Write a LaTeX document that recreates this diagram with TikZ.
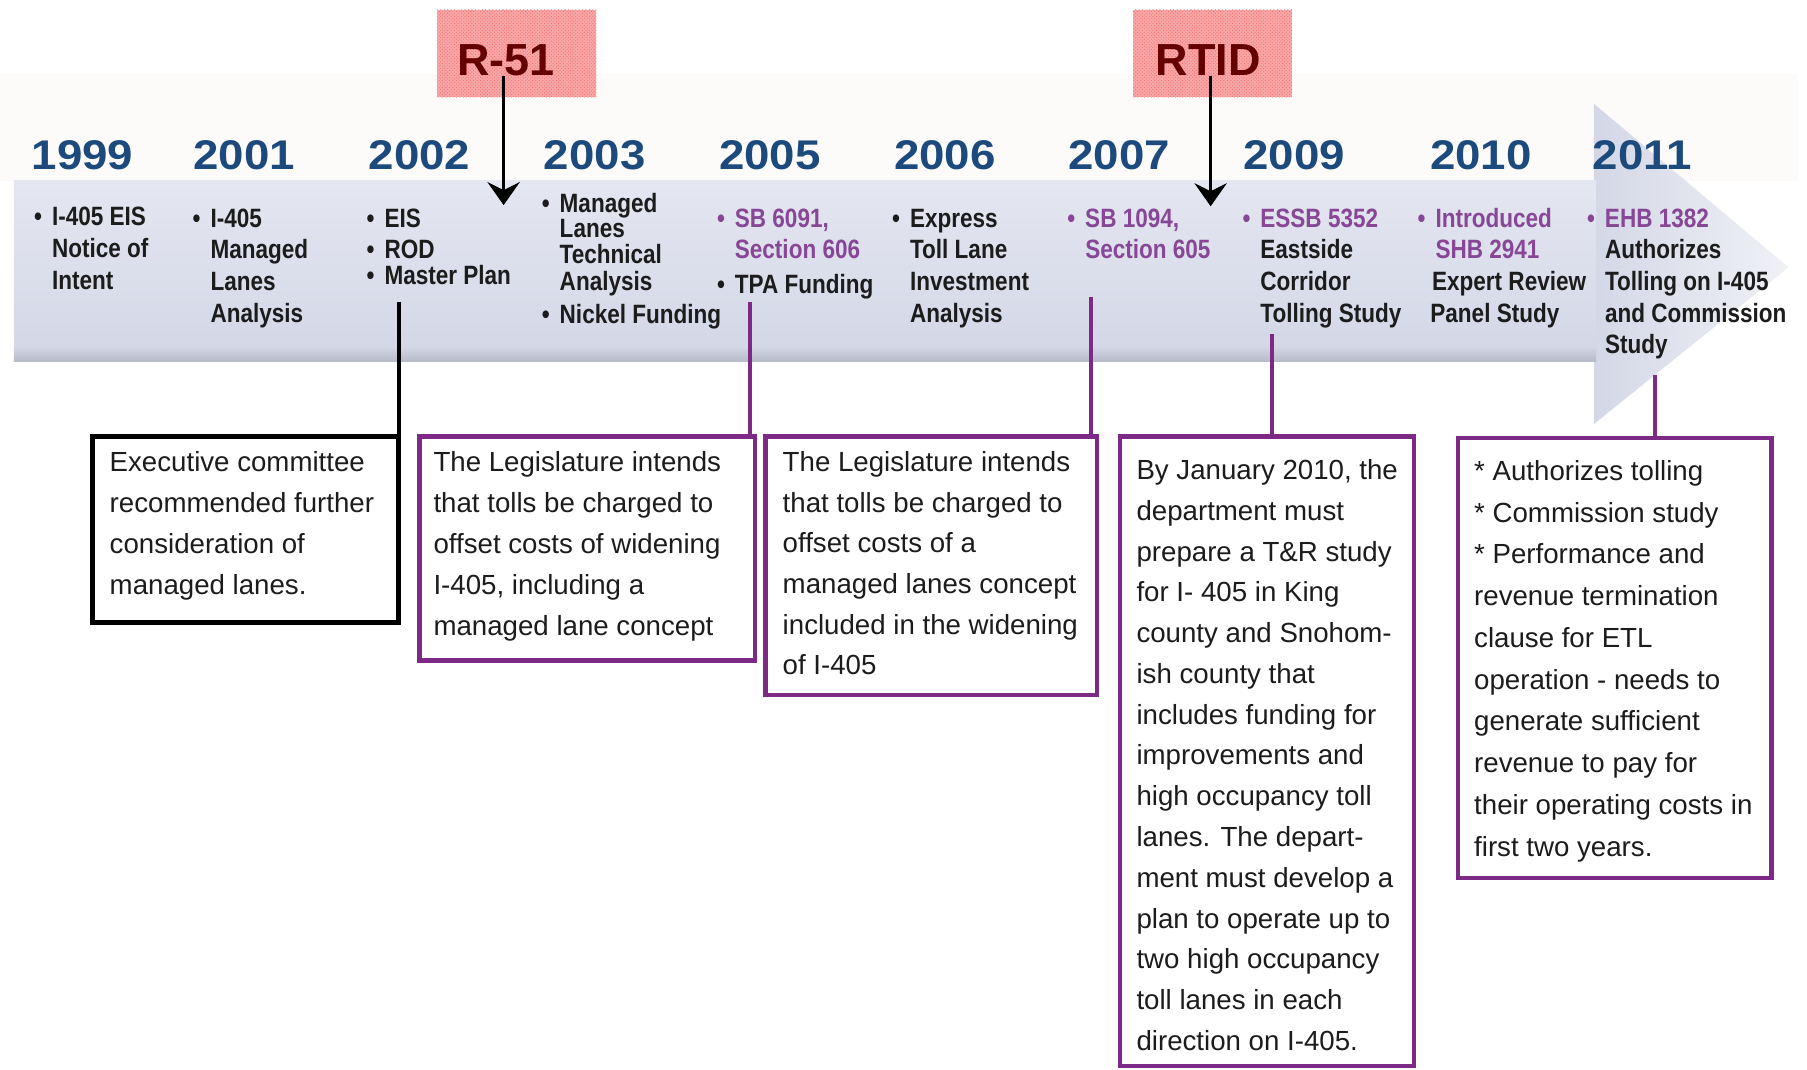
\documentclass[tikz,border=0pt]{standalone}
\usepackage{fontspec}
\setmainfont{Liberation Sans}
\newfontfamily\bandfont{Liberation Sans}[FakeStretch=0.85]
\newfontfamily\yearfont{Liberation Sans}[FakeStretch=1.1]
\usetikzlibrary{arrows.meta,patterns}
\definecolor{yearblue}{RGB}{28,74,124}
\definecolor{lpurple}{RGB}{125,42,135}
\definecolor{tpurple}{RGB}{135,70,150}
\definecolor{bandc}{RGB}{212,215,230}
\definecolor{bandtop}{RGB}{228,231,241}
\definecolor{bandshadow}{RGB}{182,185,198}
\definecolor{labelfill}{RGB}{246,168,168}
\definecolor{labeltext}{RGB}{100,0,0}
\definecolor{txt}{RGB}{28,28,28}
\definecolor{haze}{RGB}{252,251,250}
\newcommand\tlbul{\makebox[15.5pt][l]{\textbullet}}
\newcommand\tlind{\hspace*{15.5pt}}
\newcommand\tlp[1]{{\color{tpurple}#1}}
\begin{document}
\begin{tikzpicture}[x=1pt,y=-1pt,
  year/.style={font=\yearfont\bfseries\fontsize{36}{40}\selectfont, text=yearblue, inner sep=0, anchor=center},
  bandtxt/.style={font=\bandfont\bfseries\fontsize{23}{#1}\selectfont, text=txt, anchor=base west, inner sep=0},
  bandtxt/.default=27.5,
  boxtxt/.style={font=\fontsize{24}{#1}\selectfont, text=txt, anchor=base west, inner sep=0},
  pbox/.style={draw=lpurple, fill=white, line width=4pt, inner sep=0, outer sep=0, anchor=north west},
  kbox/.style={draw=black, fill=white, line width=4.5pt, inner sep=0, outer sep=0, anchor=north west},
  pconn/.style={draw=lpurple, line width=3.5pt},
  kconn/.style={draw=black, line width=3.5pt},
  lblbox/.style={fill=labelfill, postaction={pattern=crosshatch dots, pattern color=red!60}, inner sep=0, outer sep=0, minimum width=138pt, minimum height=76pt},
  lbltxt/.style={font=\bfseries\fontsize{39}{40}\selectfont, text=labeltext, inner sep=0, anchor=center},
  labarrow/.style={draw=black, line width=3pt, -{Stealth[length=20pt,width=28pt,inset=7pt]}}
]
\useasboundingbox (0,0) rectangle (1568,928);
% haze and timeline band
\fill[haze] (0,64) rectangle (1560,157);
\shade[left color=bandc, right color=white!65!bandc] (1383,90) -- (1552,232) -- (1383,368) -- cycle;
\shade[top color=bandtop, bottom color=bandc] (12,157) rectangle (1385,302);
\shade[top color=bandc!90!bandshadow, bottom color=bandshadow] (12,302) rectangle (1385,314);
% years
\node[year] (y1999) at (71.5,134.5) {1999};
\node[year] (y2001) at (212,134.5) {2001};
\node[year] (y2002) at (364,134.5) {2002};
\node[year] (y2003) at (516,134.5) {2003};
\node[year] (y2005) at (668,134.5) {2005};
\node[year] (y2006) at (820,134.5) {2006};
\node[year] (y2007) at (971,134.5) {2007};
\node[year] (y2009) at (1123,134.5) {2009};
\node[year] (y2010) at (1285,134.5) {2010};
\node[year] (y2011) at (1425,134.5) {2011};
% band texts
\node[bandtxt] (e1999) at (29.5,196) {\begin{tabular}[t]{@{}l@{}}\tlbul I-405 EIS\\\tlind Notice of\\\tlind Intent\end{tabular}};
\node[bandtxt] (e2001) at (167,197) {\begin{tabular}[t]{@{}l@{}}\tlbul I-405\\\tlind Managed\\\tlind Lanes\\\tlind Analysis\end{tabular}};
\node[bandtxt=27] (e2002) at (318,197) {\begin{tabular}[t]{@{}l@{}}\tlbul EIS\\\tlbul ROD\\[-4pt]\tlbul Master Plan\end{tabular}};
\node[bandtxt=20.6] (e2003) at (470,184) {\begin{tabular}[t]{@{}l@{}}\tlbul Managed\\\tlind Lanes\\\tlind Technical\\\tlind Analysis\\[6pt]\tlbul Nickel Funding\end{tabular}};
\node[bandtxt] (e2005) at (622,197) {\begin{tabular}[t]{@{}l@{}}\tlp{\tlbul SB 6091,}\\\tlind\tlp{Section 606}\\[3pt]\tlbul TPA Funding\end{tabular}};
\node[bandtxt] (e2006) at (774,197) {\begin{tabular}[t]{@{}l@{}}\tlbul Express\\\tlind Toll Lane\\\tlind Investment\\\tlind Analysis\end{tabular}};
\node[bandtxt] (e2007) at (926,197) {\begin{tabular}[t]{@{}l@{}}\tlp{\tlbul SB 1094,}\\\tlind\tlp{Section 605}\end{tabular}};
\node[bandtxt] (e2009) at (1078,197) {\begin{tabular}[t]{@{}l@{}}\tlp{\tlbul ESSB 5352}\\\tlind Eastside\\\tlind Corridor\\\tlind Tolling Study\end{tabular}};
\node[bandtxt] (e2010) at (1230,197) {\begin{tabular}[t]{@{}l@{}}\tlp{\tlbul Introduced}\\\tlind\tlp{SHB 2941}\\\hspace*{12.5pt}Expert Review\\\hspace*{11pt}Panel Study\end{tabular}};
\node[bandtxt] (e2011) at (1377,197) {\begin{tabular}[t]{@{}l@{}}\tlp{\tlbul EHB 1382}\\\tlind Authorizes\\\tlind Tolling on I-405\\\tlind and Commission\\\tlind Study\end{tabular}};
% labels with arrows
\node[lblbox] (r51box) at (448.5,46.6) {};
\node[lbltxt] (r51) at (439,52) {R-51};
\coordinate (r51tip) at (437,178);
\draw[labarrow] (r51.south -| r51tip) -- (r51tip);
\node[lblbox] (rtidbox) at (1052.5,46.6) {};
\node[lbltxt] (rtid) at (1048.5,52) {RTID};
\coordinate (rtidtip) at (1050.5,179);
\draw[labarrow] (rtid.south -| rtidtip) -- (rtidtip);
% boxes
\node[kbox, minimum width=266pt, minimum height=161pt] (b1) at (80,379) {};
\node[pbox, minimum width=291pt, minimum height=194pt] (b2) at (364,379) {};
\node[pbox, minimum width=288pt, minimum height=224pt] (b3) at (664,379) {};
\node[pbox, minimum width=255pt, minimum height=546pt] (b4) at (972,379) {};
\node[pbox, minimum width=272pt, minimum height=382pt] (b5) at (1265,380) {};
% connectors
\coordinate (k2002) at (346,262);
\coordinate (k2005) at (651,262);
\coordinate (k2007) at (947,258);
\coordinate (k2009) at (1104,290);
\coordinate (k2011) at (1436,325);
\draw[kconn] (k2002) -- (k2002 |- b1.north);
\draw[pconn] (k2005) -- (k2005 |- b2.north);
\draw[pconn] (k2007) -- (k2007 |- b3.north);
\draw[pconn] (k2009) -- (k2009 |- b4.north);
\draw[pconn] (k2011) -- (k2011 |- b5.north);
% box texts
\node[boxtxt=35.5] (t1) at (95,409) {\begin{tabular}[t]{@{}l@{}}Executive committee\\recommended further\\consideration of\\managed lanes.\end{tabular}};
\node[boxtxt=35.6] (t2) at (376,409) {\begin{tabular}[t]{@{}l@{}}The Legislature intends\\that tolls be charged to\\offset costs of widening\\I-405, including a\\managed lane concept\end{tabular}};
\node[boxtxt=35.3] (t3) at (679,409) {\begin{tabular}[t]{@{}l@{}}The Legislature intends\\that tolls be charged to\\offset costs of a\\managed lanes concept\\included in the widening\\of I-405\end{tabular}};
\node[boxtxt=35.4] (t4) at (986,416) {\begin{tabular}[t]{@{}l@{}}By January 2010, the\\department must\\prepare a T\&R study\\for I- 405 in King\\county and Snohom-\\ish county that\\includes funding for\\improvements and\\high occupancy toll\\lanes. The depart-\\ment must develop a\\plan to operate up to\\two high occupancy\\toll lanes in each\\direction on I-405.\end{tabular}};
\node[boxtxt=36.2] (t5) at (1279,417) {\begin{tabular}[t]{@{}l@{}}* Authorizes tolling\\{}* Commission study\\{}* Performance and\\revenue termination\\clause for ETL\\operation - needs to\\generate sufficient\\revenue to pay for\\their operating costs in\\first two years.\end{tabular}};
\end{tikzpicture}
\end{document}
